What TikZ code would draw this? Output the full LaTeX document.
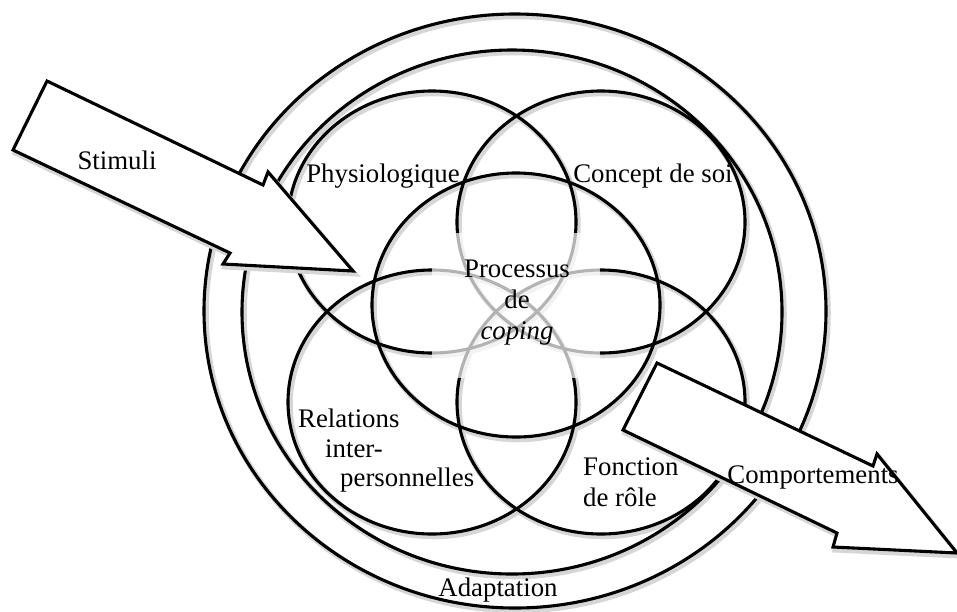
\documentclass[tikz,border=0pt]{standalone}
\usepackage{fontspec}
\setmainfont{Liberation Serif}
\begin{document}
\begin{tikzpicture}[x=1pt,y=-1pt,
  ring/.style={draw=black,line width=3.1pt},
  ringshadow/.style={draw=black!16,line width=5.5pt,transform canvas={xshift=2pt,yshift=-2.5pt}},
  lbl/.style={font=\fontsize{26.8}{31}\selectfont,inner sep=0pt},
  bigarrow/.style={draw=black,line width=3.1pt,fill=white,line join=miter},
  bigarrowshadow/.style={fill=black!16,draw=black!16,line width=5pt,transform canvas={xshift=2pt,yshift=-3pt}}]
\useasboundingbox[fill=white] (0,0) rectangle (957,611);
\newcommand\ringset[1]{%
  \draw[#1] (515,311) ellipse [x radius=311pt, y radius=297pt];
  \draw[#1] (512,312) ellipse [x radius=270pt, y radius=262pt];
  \draw[#1] (432,222) ellipse [x radius=144pt, y radius=131pt];
  \draw[#1] (601,222) ellipse [x radius=144pt, y radius=131pt];
  \draw[#1] (432,402) ellipse [x radius=144pt, y radius=132pt];
  \draw[#1] (601,402) ellipse [x radius=144pt, y radius=132pt];
  \draw[#1] (516,305) ellipse [x radius=144pt, y radius=132pt];
}
\newcommand\stimulishape{(47,81) -- (263,185) -- (268,172) -- (353,271) -- (223,264) -- (230,253) -- (13,150) -- cycle}
\newcommand\compshape{(657,363) -- (873,466) -- (877,454) -- (957,553) -- (833,547) -- (837,533) -- (623,430) -- cycle}
% rings
\ringset{ringshadow}
\ringset{ring}
% translucent text box in the centre
\fill[white,opacity=0.7] (432,233) rectangle (600,378);
% labels
\node[lbl] (phys) at (383,176) {Physiologique};
\node[lbl] (soi) at (653,176) {Concept de soi};
\node[lbl,align=center] (coping) at (517,303) {Processus\\de\\\textit{coping}};
\node[lbl,anchor=west] (rel1) at (298,418) {Relations};
\node[lbl,anchor=west] (rel2) at (325,449) {inter-};
\node[lbl,anchor=west] (rel3) at (340,480) {personnelles};
\node[lbl,align=left,anchor=west] (role) at (583,482) {Fonction\\de rôle};
\node[lbl] (adapt) at (498,590) {Adaptation};
% arrows
\fill[bigarrowshadow] \stimulishape;
\draw[bigarrow] \stimulishape;
\fill[bigarrowshadow] \compshape;
\draw[bigarrow] \compshape;
\node[lbl] (stim) at (117,160) {Stimuli};
\node[lbl] (comp) at (813,477) {Comportements};
\end{tikzpicture}
\end{document}
